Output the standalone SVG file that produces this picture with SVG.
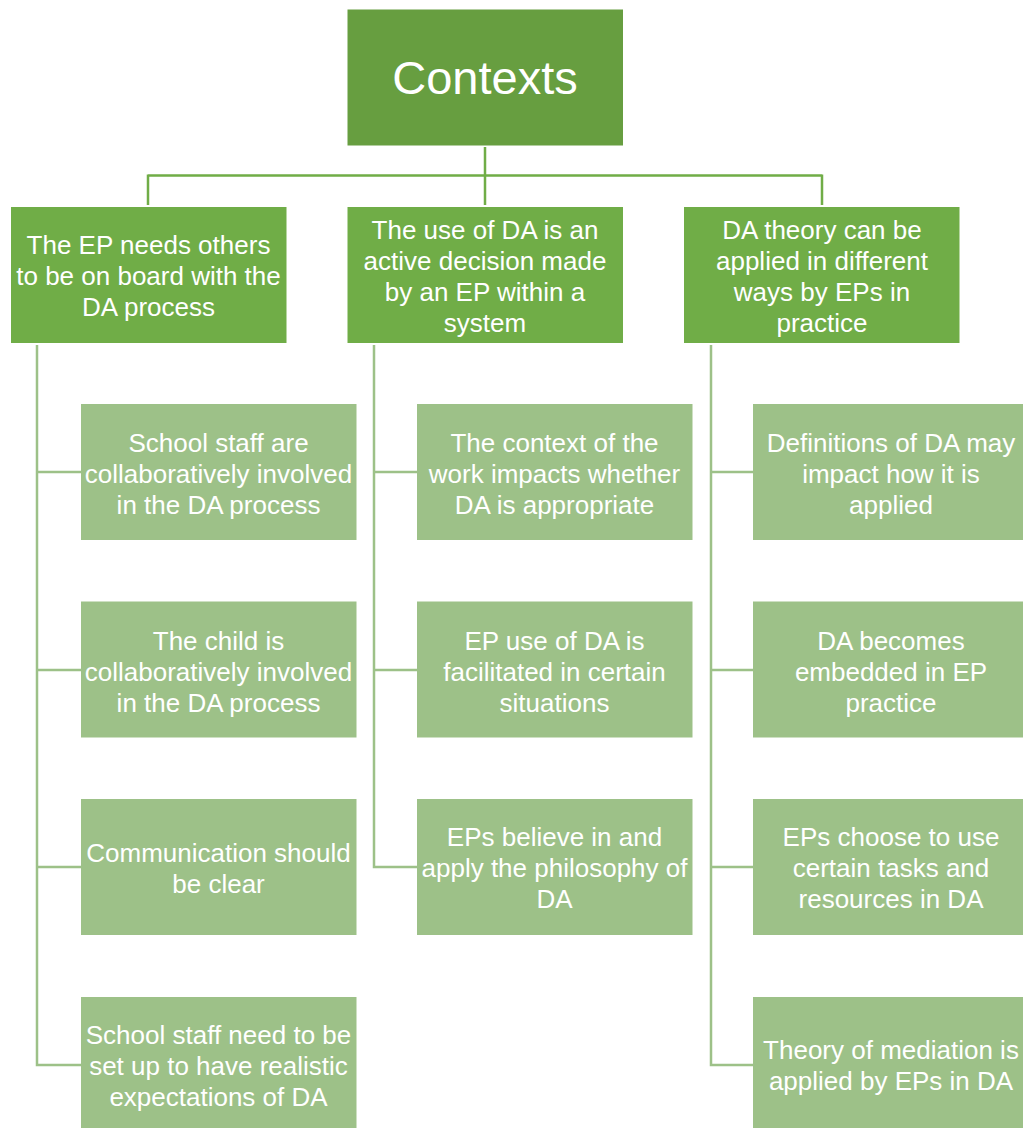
<svg xmlns="http://www.w3.org/2000/svg" width="1023" height="1128" viewBox="0 0 1023 1128">
  <style>
    .root { fill: #679E40; }
    .lvl1 { fill: #70AD47; }
    .lvl2 { fill: #9DC188; }
    text { font-family: "Liberation Sans", Arial, sans-serif; fill: #ffffff; text-anchor: middle; }
    .t { font-size: 26px; }
    .big { font-size: 47px; }
    .c1 { fill: none; stroke: #70AD47; stroke-width: 2.5; }
    .c2 { fill: none; stroke: #9DC188; stroke-width: 2.5; }
  </style>
  <rect width="1023" height="1128" fill="#ffffff"/>

  <!-- connectors -->
  <g id="connectors">
    <path class="c1" d="M485 147 V205 M148 175.5 H822 M148 174.5 V205 M822 174.5 V205"/>
    <path class="c2" d="M37 345 V1065 H81 M37 472 H81 M37 670 H81 M37 867 H81"/>
    <path class="c2" d="M374 345 V867 H417 M374 472 H417 M374 670 H417"/>
    <path class="c2" d="M711 345 V1065 H753 M711 472 H753 M711 670 H753 M711 867 H753"/>
  </g>

  <!-- top node -->
  <g id="contexts">
    <rect class="root" x="347.5" y="9.5" width="275.5" height="136"/>
    <text class="big" x="485" y="93.5">Contexts</text>
  </g>

  <!-- second level -->
  <g id="ep-needs-others">
    <rect class="lvl1" x="11" y="207" width="275.5" height="136"/>
    <text class="t" x="148.5"><tspan x="148.5" y="253.5">The EP needs others</tspan><tspan x="148.5" y="284.5">to be on board with the</tspan><tspan x="148.5" y="315.5">DA process</tspan></text>
  </g>
  <g id="active-decision">
    <rect class="lvl1" x="347.5" y="207" width="275.5" height="136"/>
    <text class="t" x="485"><tspan x="485" y="238.5">The use of DA is an</tspan><tspan x="485" y="269.5">active decision made</tspan><tspan x="485" y="300.5">by an EP within a</tspan><tspan x="485" y="331.5">system</tspan></text>
  </g>
  <g id="theory-applied">
    <rect class="lvl1" x="684" y="207" width="275.5" height="136"/>
    <text class="t" x="822"><tspan x="822" y="238.5">DA theory can be</tspan><tspan x="822" y="269.5">applied in different</tspan><tspan x="822" y="300.5">ways by EPs in</tspan><tspan x="822" y="331.5">practice</tspan></text>
  </g>

  <!-- left column -->
  <g id="staff-involved">
    <rect class="lvl2" x="81" y="404" width="275.5" height="136"/>
    <text class="t" x="218.5"><tspan x="218.5" y="452">School staff are</tspan><tspan x="218.5" y="483">collaboratively involved</tspan><tspan x="218.5" y="514">in the DA process</tspan></text>
  </g>
  <g id="child-involved">
    <rect class="lvl2" x="81" y="601.5" width="275.5" height="136"/>
    <text class="t" x="218.5"><tspan x="218.5" y="649.5">The child is</tspan><tspan x="218.5" y="680.5">collaboratively involved</tspan><tspan x="218.5" y="711.5">in the DA process</tspan></text>
  </g>
  <g id="communication">
    <rect class="lvl2" x="81" y="799" width="275.5" height="136"/>
    <text class="t" x="218.5"><tspan x="218.5" y="861.5">Communication should</tspan><tspan x="218.5" y="892.5">be clear</tspan></text>
  </g>
  <g id="realistic-expectations">
    <rect class="lvl2" x="81" y="997" width="275.5" height="136"/>
    <text class="t" x="218.5"><tspan x="218.5" y="1044">School staff need to be</tspan><tspan x="218.5" y="1075">set up to have realistic</tspan><tspan x="218.5" y="1106">expectations of DA</tspan></text>
  </g>

  <!-- middle column -->
  <g id="context-of-work">
    <rect class="lvl2" x="417" y="404" width="275.5" height="136"/>
    <text class="t" x="554.5"><tspan x="554.5" y="452">The context of the</tspan><tspan x="554.5" y="483">work impacts whether</tspan><tspan x="554.5" y="514">DA is appropriate</tspan></text>
  </g>
  <g id="facilitated">
    <rect class="lvl2" x="417" y="601.5" width="275.5" height="136"/>
    <text class="t" x="554.5"><tspan x="554.5" y="649.5">EP use of DA is</tspan><tspan x="554.5" y="680.5">facilitated in certain</tspan><tspan x="554.5" y="711.5">situations</tspan></text>
  </g>
  <g id="philosophy">
    <rect class="lvl2" x="417" y="799" width="275.5" height="136"/>
    <text class="t" x="554.5"><tspan x="554.5" y="846">EPs believe in and</tspan><tspan x="554.5" y="877">apply the philosophy of</tspan><tspan x="554.5" y="908">DA</tspan></text>
  </g>

  <!-- right column -->
  <g id="definitions">
    <rect class="lvl2" x="753" y="404" width="275.5" height="136"/>
    <text class="t" x="891"><tspan x="891" y="452">Definitions of DA may</tspan><tspan x="891" y="483">impact how it is</tspan><tspan x="891" y="514">applied</tspan></text>
  </g>
  <g id="embedded">
    <rect class="lvl2" x="753" y="601.5" width="275.5" height="136"/>
    <text class="t" x="891"><tspan x="891" y="649.5">DA becomes</tspan><tspan x="891" y="680.5">embedded in EP</tspan><tspan x="891" y="711.5">practice</tspan></text>
  </g>
  <g id="tasks-resources">
    <rect class="lvl2" x="753" y="799" width="275.5" height="136"/>
    <text class="t" x="891"><tspan x="891" y="846">EPs choose to use</tspan><tspan x="891" y="877">certain tasks and</tspan><tspan x="891" y="908">resources in DA</tspan></text>
  </g>
  <g id="mediation">
    <rect class="lvl2" x="753" y="997" width="275.5" height="136"/>
    <text class="t" x="891"><tspan x="891" y="1059">Theory of mediation is</tspan><tspan x="891" y="1090">applied by EPs in DA</tspan></text>
  </g>
</svg>
